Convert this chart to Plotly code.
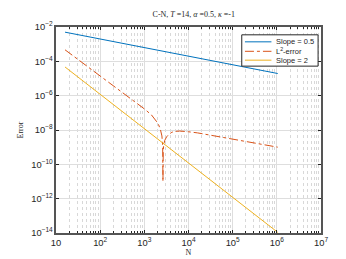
import plotly.graph_objects as go

# Data
N_ref = [16, 32, 64, 128, 256, 512, 1024, 2048, 4096, 8192, 16384, 32768,
         65536, 131072, 262144, 524288, 1048576]
slope05 = [5.0e-3, 3.54e-3, 2.5e-3, 1.77e-3, 1.25e-3, 8.84e-4, 6.25e-4, 4.42e-4,
           3.13e-4, 2.21e-4, 1.56e-4, 1.10e-4, 7.81e-5, 5.52e-5, 3.91e-5, 2.76e-5, 1.95e-5]
slope2 = [4.69e-5, 1.17e-5, 2.93e-6, 7.32e-7, 1.83e-7, 4.58e-8, 1.14e-8, 2.86e-9,
          7.15e-10, 1.79e-10, 4.47e-11, 1.12e-11, 2.79e-12, 6.98e-13, 1.75e-13,
          4.37e-14, 1.09e-14]
N_err = [16, 32, 64, 128, 256, 512, 1024, 1448, 2048, 2300, 2500, 2600, 2640, 2680,
         2750, 2900, 3200, 3600, 4200, 5000, 6300, 8000, 10000, 16000, 32000, 64000,
         128000, 256000, 512000, 1048576]
l2err = [4.7e-4, 1.26e-4, 3.4e-5, 9.1e-6, 2.4e-6, 6.3e-7, 1.62e-7, 7.6e-8, 2.4e-8,
         1.12e-8, 4.5e-9, 1.26e-9, 1.0e-11, 6.3e-10, 1.4e-9, 2.5e-9, 4.0e-9, 5.6e-9,
         7.4e-9, 8.3e-9, 8.7e-9, 8.5e-9, 7.9e-9, 6.8e-9, 5.0e-9, 3.7e-9, 2.75e-9,
         2.0e-9, 1.4e-9, 1.0e-9]
legend_names = ["Slope = 0.5", "L<sup>2</sup>-error", "Slope = 2"]
colors = ["#0072BD", "#D95319", "#EDB120"]
dashes = ["solid", "dashdot", "solid"]

fig = go.Figure()
fig.add_trace(go.Scatter(x=N_ref, y=slope05, mode="lines", name=legend_names[0],
                         line=dict(color=colors[0], width=1, dash=dashes[0])))
fig.add_trace(go.Scatter(x=N_err, y=l2err, mode="lines", name=legend_names[1],
                         line=dict(color=colors[1], width=1, dash=dashes[1])))
fig.add_trace(go.Scatter(x=N_ref, y=slope2, mode="lines", name=legend_names[2],
                         line=dict(color=colors[2], width=1, dash=dashes[2])))

serif = "Liberation Serif, DejaVu Serif, serif"
sans = "Liberation Sans, Arial, sans-serif"

axis_common = dict(
    type="log", showline=True, linecolor="#555555", linewidth=1.5, mirror="ticks",
    ticks="inside", ticklen=3, tickcolor="#262626",
    showgrid=True, gridcolor="#dedede", gridwidth=1,
    exponentformat="power", tickfont=dict(family=sans, size=7.5, color="#262626"),
    zeroline=False,
)

# Compact legend drawn in paper coordinates (box, samples, labels)
lx0, lx1, ly0, ly1 = 0.701, 0.989, 0.810, 0.962
row_y = [0.928, 0.882, 0.839]
shapes = [dict(type="rect", xref="paper", yref="paper", x0=lx0, x1=lx1, y0=ly0, y1=ly1,
               fillcolor="white", line=dict(color="#262626", width=1), layer="above")]
annotations = []
for name, c, d, yy in zip(legend_names, colors, dashes, row_y):
    shapes.append(dict(type="line", xref="paper", yref="paper", x0=0.713, x1=0.813,
                       y0=yy, y1=yy, line=dict(color=c, width=1, dash=d), layer="above"))
    annotations.append(dict(text=name, xref="paper", yref="paper", x=0.822, y=yy,
                            xanchor="left", yanchor="middle", showarrow=False,
                            font=dict(family=sans, size=7.5, color="#262626")))

fig.update_layout(
    width=346, height=259,
    margin=dict(l=45, r=33, t=19, b=29),
    paper_bgcolor="white", plot_bgcolor="white",
    title=dict(text="C-N, <i>T</i> =14, <i>α</i> =0.5, <i>κ</i> =-1",
               font=dict(family=serif, size=8, color="#262626"),
               x=0.52, xanchor="center", y=0.985, yanchor="top", xref="paper"),
    xaxis=dict(**axis_common, range=[1, 7], dtick=1,
               title=dict(text="N", font=dict(family=serif, size=8, color="#262626"), standoff=2),
               minor=dict(showgrid=True, gridcolor="#d8d8d8", griddash="dot",
                          ticks="inside", ticklen=2, tickcolor="#262626")),
    yaxis=dict(**axis_common, range=[-14, -2], dtick=2,
               title=dict(text="Error", font=dict(family=serif, size=8, color="#262626"), standoff=6)),
    showlegend=False,
    shapes=shapes,
    annotations=annotations,
)

fig.write_html("out.html")
